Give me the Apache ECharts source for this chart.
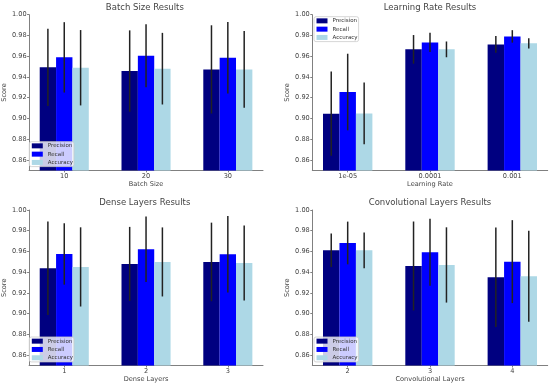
<!DOCTYPE html>
<html><head><meta charset="utf-8">
<script src="https://cdn.jsdelivr.net/npm/echarts@6/dist/echarts.min.js"></script>
<style>html,body{margin:0;padding:0;background:#fff}#c{width:550px;height:387px}</style>
</head><body><div id="c"></div>
<script>
// ---------- data ----------
const seriesNames = ['Precision', 'Recall', 'Accuracy'];
const yTickValues = [0.86, 0.88, 0.90, 0.92, 0.94, 0.96, 0.98, 1.00];

const batchCategories = ['10', '20', '30'];
const batchPrecision = [0.9493, 0.9457, 0.9473];
const batchPrecisionErr = [0.0372, 0.0392, 0.0425];
const batchRecall = [0.9589, 0.9605, 0.9586];
const batchRecallErr = [0.0339, 0.0303, 0.0344];
const batchAccuracy = [0.9489, 0.9480, 0.9473];
const batchAccuracyErr = [0.0363, 0.0345, 0.0370];

const lrCategories = ['1e-05', '0.0001', '0.001'];
const lrPrecision = [0.9046, 0.9666, 0.9714];
const lrPrecisionErr = [0.0406, 0.0138, 0.0081];
const lrRecall = [0.9255, 0.9733, 0.9791];
const lrRecallErr = [0.0369, 0.0093, 0.0060];
const lrAccuracy = [0.9049, 0.9666, 0.9724];
const lrAccuracyErr = [0.0298, 0.0076, 0.0050];

const denseCategories = ['1', '2', '3'];
const densePrecision = [0.9438, 0.9480, 0.9499];
const densePrecisionErr = [0.0450, 0.0357, 0.0379];
const denseRecall = [0.9576, 0.9621, 0.9573];
const denseRecallErr = [0.0296, 0.0316, 0.0368];
const denseAccuracy = [0.9451, 0.9499, 0.9489];
const denseAccuracyErr = [0.0382, 0.0333, 0.0361];

const convCategories = ['2', '3', '4'];
const convPrecision = [0.9611, 0.9460, 0.9352];
const convPrecisionErr = [0.0162, 0.0429, 0.0480];
const convRecall = [0.9682, 0.9592, 0.9502];
const convRecallErr = [0.0206, 0.0323, 0.0400];
const convAccuracy = [0.9611, 0.9470, 0.9361];
const convAccuracyErr = [0.0173, 0.0363, 0.0438];

// ---------- layout / style ----------
const COLORS = ['#000080', '#0000ff', '#add8e6'];
const FONT = 'DejaVu Sans';
const TEXT = '#444444';
const AXIS = '#808080';
const Y_MIN = 0.85, Y_MAX = 1.00;
const BAR_W = 0.2;
const X_MIN = -0.43, X_MAX = 2.43;

const panels = [
  { title: 'Batch Size Results', xName: 'Batch Size', cats: batchCategories,
    vals: [batchPrecision, batchRecall, batchAccuracy],
    errs: [batchPrecisionErr, batchRecallErr, batchAccuracyErr],
    grid: { left: 26.7, top: 14.7, width: 236.3, height: 155.7 }, titleTop: 3,
    legend: { left: 29.3, top: 141.7 } },
  { title: 'Learning Rate Results', xName: 'Learning Rate', cats: lrCategories,
    vals: [lrPrecision, lrRecall, lrAccuracy],
    errs: [lrPrecisionErr, lrRecallErr, lrAccuracyErr],
    grid: { left: 312.3, top: 14.7, width: 235.4, height: 155.7 }, titleTop: 3,
    legend: { left: 314, top: 16.7 } },
  { title: 'Dense Layers Results', xName: 'Dense Layers', cats: denseCategories,
    vals: [densePrecision, denseRecall, denseAccuracy],
    errs: [densePrecisionErr, denseRecallErr, denseAccuracyErr],
    grid: { left: 26.7, top: 210, width: 236.3, height: 155.5 }, titleTop: 198.5,
    legend: { left: 29.3, top: 337 } },
  { title: 'Convolutional Layers Results', xName: 'Convolutional Layers', cats: convCategories,
    vals: [convPrecision, convRecall, convAccuracy],
    errs: [convPrecisionErr, convRecallErr, convAccuracyErr],
    grid: { left: 312.3, top: 210, width: 235.4, height: 155.5 }, titleTop: 198.5,
    legend: { left: 314, top: 337 } }
];

const chart = echarts.init(document.getElementById('c'), null, { renderer: 'canvas' });

const option = {
  animation: false,
  backgroundColor: '#ffffff',
  textStyle: { fontFamily: FONT },
  title: [], grid: [], xAxis: [], yAxis: [], legend: [], series: []
};

panels.forEach((p, pi) => {
  option.grid.push(Object.assign({ containLabel: false }, p.grid));
  option.title.push({
    text: p.title, left: p.grid.left + p.grid.width / 2, top: p.titleTop,
    textAlign: 'center', padding: 0,
    textStyle: { fontFamily: FONT, fontSize: 8.5, fontWeight: 'normal', color: TEXT }
  });
  const cats = p.cats;
  option.xAxis.push({
    type: 'value', gridIndex: pi, min: X_MIN, max: X_MAX,
    name: p.xName, nameLocation: 'middle', nameGap: 10,
    nameTextStyle: { fontFamily: FONT, fontSize: 6.6, color: TEXT },
    axisLine: { show: true, onZero: false, lineStyle: { color: AXIS, width: 1 } },
    axisTick: { show: true, length: 2, customValues: [0, 1, 2], lineStyle: { color: AXIS } },
    axisLabel: { show: true, customValues: [0, 1, 2], margin: 2.5, fontSize: 6.6, color: TEXT, fontFamily: FONT,
      formatter: v => cats[Math.round(v)] },
    splitLine: { show: false }
  });
  option.yAxis.push({
    type: 'value', gridIndex: pi, min: Y_MIN, max: Y_MAX,
    name: 'Score', nameLocation: 'middle', nameGap: 18,
    nameTextStyle: { fontFamily: FONT, fontSize: 6.6, color: TEXT },
    axisLine: { show: true, onZero: false, lineStyle: { color: AXIS, width: 1 } },
    axisTick: { show: true, length: 2, customValues: yTickValues, lineStyle: { color: AXIS } },
    axisLabel: { show: true, customValues: yTickValues, margin: 2.5, fontSize: 6.6, color: TEXT, fontFamily: FONT,
      formatter: v => v.toFixed(2) },
    splitLine: { show: false }
  });
  option.legend.push({
    data: seriesNames, orient: 'vertical', left: p.legend.left, top: p.legend.top,
    icon: 'rect', itemWidth: 11, itemHeight: 5, itemGap: 2, itemTextGap: 4,
    padding: [1, 1, 1, 2.5],
    backgroundColor: 'rgba(255,255,255,0.8)', borderColor: '#cccccc', borderWidth: 0.8, borderRadius: 2,
    textStyle: { fontFamily: FONT, fontSize: 5.5, lineHeight: 6.3, color: '#333333' },
    selectedMode: false
  });
  seriesNames.forEach((name, si) => {
    const data = cats.map((c, i) => [i + (si - 1) * BAR_W, p.vals[si][i], p.errs[si][i]]);
    option.series.push({
      type: 'custom', name: name, xAxisIndex: pi, yAxisIndex: pi,
      itemStyle: { color: COLORS[si] },
      encode: { x: 0, y: 1 },
      data: data,
      renderItem: function (params, api) {
        const x = api.value(0), v = api.value(1), e = api.value(2);
        const w = api.size([BAR_W, 0])[0];
        const base = api.coord([x, Y_MIN]);
        const top = api.coord([x, v]);
        const eTop = api.coord([x, v + e]);
        const eBot = api.coord([x, v - e]);
        return {
          type: 'group',
          children: [
            { type: 'rect', shape: { x: top[0] - w / 2, y: top[1], width: w, height: base[1] - top[1] },
              style: { fill: COLORS[si] } },
            { type: 'line', z2: 10, shape: { x1: top[0], y1: eTop[1], x2: top[0], y2: eBot[1] },
              style: { stroke: '#222222', lineWidth: 1.5 } }
          ]
        };
      }
    });
  });
});

chart.setOption(option);
</script>
</body></html>
